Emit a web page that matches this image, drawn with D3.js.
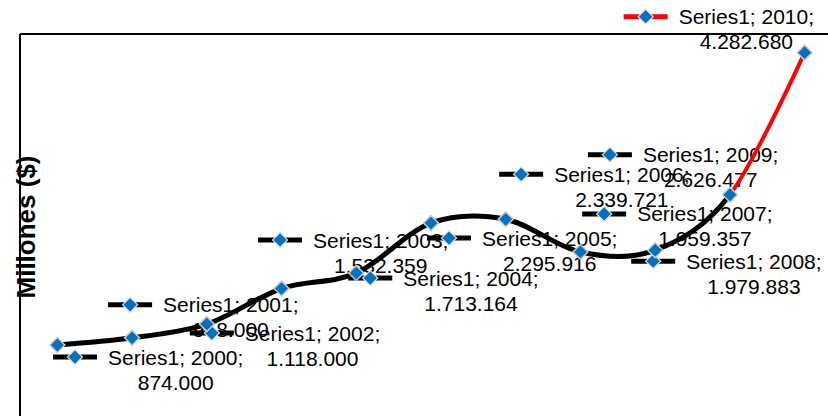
<!DOCTYPE html>
<html>
<head>
<meta charset="utf-8">
<script src="https://cdn.jsdelivr.net/npm/d3@7"></script>
<style>
  html, body { margin: 0; padding: 0; background: #fff; }
  svg { display: block; }
</style>
</head>
<body>
<svg id="chart" width="828" height="416"></svg>
<script>
// ---- data ----
const years = ["2000","2001","2002","2003","2004","2005","2006","2007","2008","2009","2010"];
const values = [874000, 958000, 1118000, 1532359, 1713164, 2295916, 2339721, 1959357, 1979883, 2626477, 4282680];
const valueLabels = ["874.000","958.000","1.118.000","1.532.359","1.713.164","2.295.916","2.339.721","1.959.357","1.979.883","2.626.477","4.282.680"];
const seriesName = "Series1";
const yTitle = "Millones ($)";

// ---- layout (label key offsets from each point, px) ----
const labelDx = [17.6, -2, 5, -1.5, 14, 18, 15.4, 23.7, -2, -120, -159];
const labelDy = [12, -33, 9, -48.6, 5, 15, -45, -38, 11, -40, -36];
const pointColor = ["#000","#000","#000","#000","#000","#000","#000","#000","#000","#000","#ff0000"];

const svg = d3.select("#chart");
const plot = {left: 20, top: 34, right: 842, bottom: 420};

const x = d3.scalePoint().domain(years).range([plot.left, plot.right]).padding(0.5);
const y = d3.scaleLinear().domain([0, 4500000]).range([plot.bottom, plot.top]);

const data = years.map((yr, i) => ({year: yr, value: values[i], label: valueLabels[i], i}));

// axis title
svg.append("text")
  .attr("transform", `translate(26,${227}) rotate(-90)`)
  .attr("text-anchor", "middle")
  .attr("dominant-baseline", "central")
  .attr("font-family", "Liberation Sans, Arial, sans-serif")
  .attr("font-weight", "bold")
  .attr("font-size", 26)
  .attr("fill", "#000")
  .text(yTitle);

// plot borders
svg.append("line").attr("x1", plot.left).attr("x2", 828).attr("y1", plot.top).attr("y2", plot.top)
  .attr("stroke", "#000").attr("stroke-width", 2);
svg.append("line").attr("x1", plot.left).attr("x2", plot.left).attr("y1", plot.top).attr("y2", 416)
  .attr("stroke", "#000").attr("stroke-width", 2);

const diamond = d3.symbol().type(d3.symbolSquare).size(112);
const font = "Liberation Sans, Arial, sans-serif";
const fs = 21;

// data labels (with legend keys)
const labels = svg.append("g");
data.forEach(d => {
  const kx = x(d.year) + labelDx[d.i];
  const ky = y(d.value) + labelDy[d.i];
  const g = labels.append("g");
  g.append("line").attr("x1", kx - 22).attr("x2", kx + 22).attr("y1", ky).attr("y2", ky)
    .attr("stroke", pointColor[d.i]).attr("stroke-width", 5);
  g.append("path").attr("d", diamond)
    .attr("transform", `translate(${kx},${ky}) rotate(45)`)
    .attr("fill", "#0070c0").attr("stroke", "#e0e0e0").attr("stroke-width", 1.2);
  const t1 = g.append("text")
    .attr("x", kx + 33).attr("y", ky).attr("dy", "0.36em")
    .attr("font-family", font).attr("font-size", fs).attr("fill", "#000")
    .text(`${seriesName}; ${d.year};`);
  const w = t1.node().getComputedTextLength();
  g.append("text")
    .attr("x", kx + 33 + w / 2).attr("y", ky + 25).attr("dy", "0.36em")
    .attr("text-anchor", "middle")
    .attr("font-family", font).attr("font-size", fs).attr("fill", "#000")
    .text(d.label);
});

// smoothed line: black up to 2009, red for last segment
const line = d3.line().x(d => x(d.year)).y(d => y(d.value)).curve(d3.curveCardinal.tension(0));
const defs = svg.append("defs");
const splitX = x(years[years.length - 2]);
defs.append("clipPath").attr("id", "clipA").append("rect")
  .attr("x", 0).attr("y", 0).attr("width", splitX).attr("height", 416);
defs.append("clipPath").attr("id", "clipB").append("rect")
  .attr("x", splitX).attr("y", 0).attr("width", 828 - splitX).attr("height", 416);

svg.append("path").datum(data).attr("d", line)
  .attr("fill", "none").attr("stroke", "#000").attr("stroke-width", 5)
  .attr("stroke-linejoin", "round").attr("clip-path", "url(#clipA)");
svg.append("path").datum(data).attr("d", line)
  .attr("fill", "none").attr("stroke", "#ff0000").attr("stroke-width", 4)
  .attr("stroke-linejoin", "round").attr("clip-path", "url(#clipB)");

// markers
svg.append("g").selectAll("path").data(data).join("path")
  .attr("d", diamond)
  .attr("transform", d => `translate(${x(d.year)},${y(d.value)}) rotate(45)`)
  .attr("fill", "#0070c0").attr("stroke", "#c8c8c8").attr("stroke-width", 1.5);
</script>
</body>
</html>
